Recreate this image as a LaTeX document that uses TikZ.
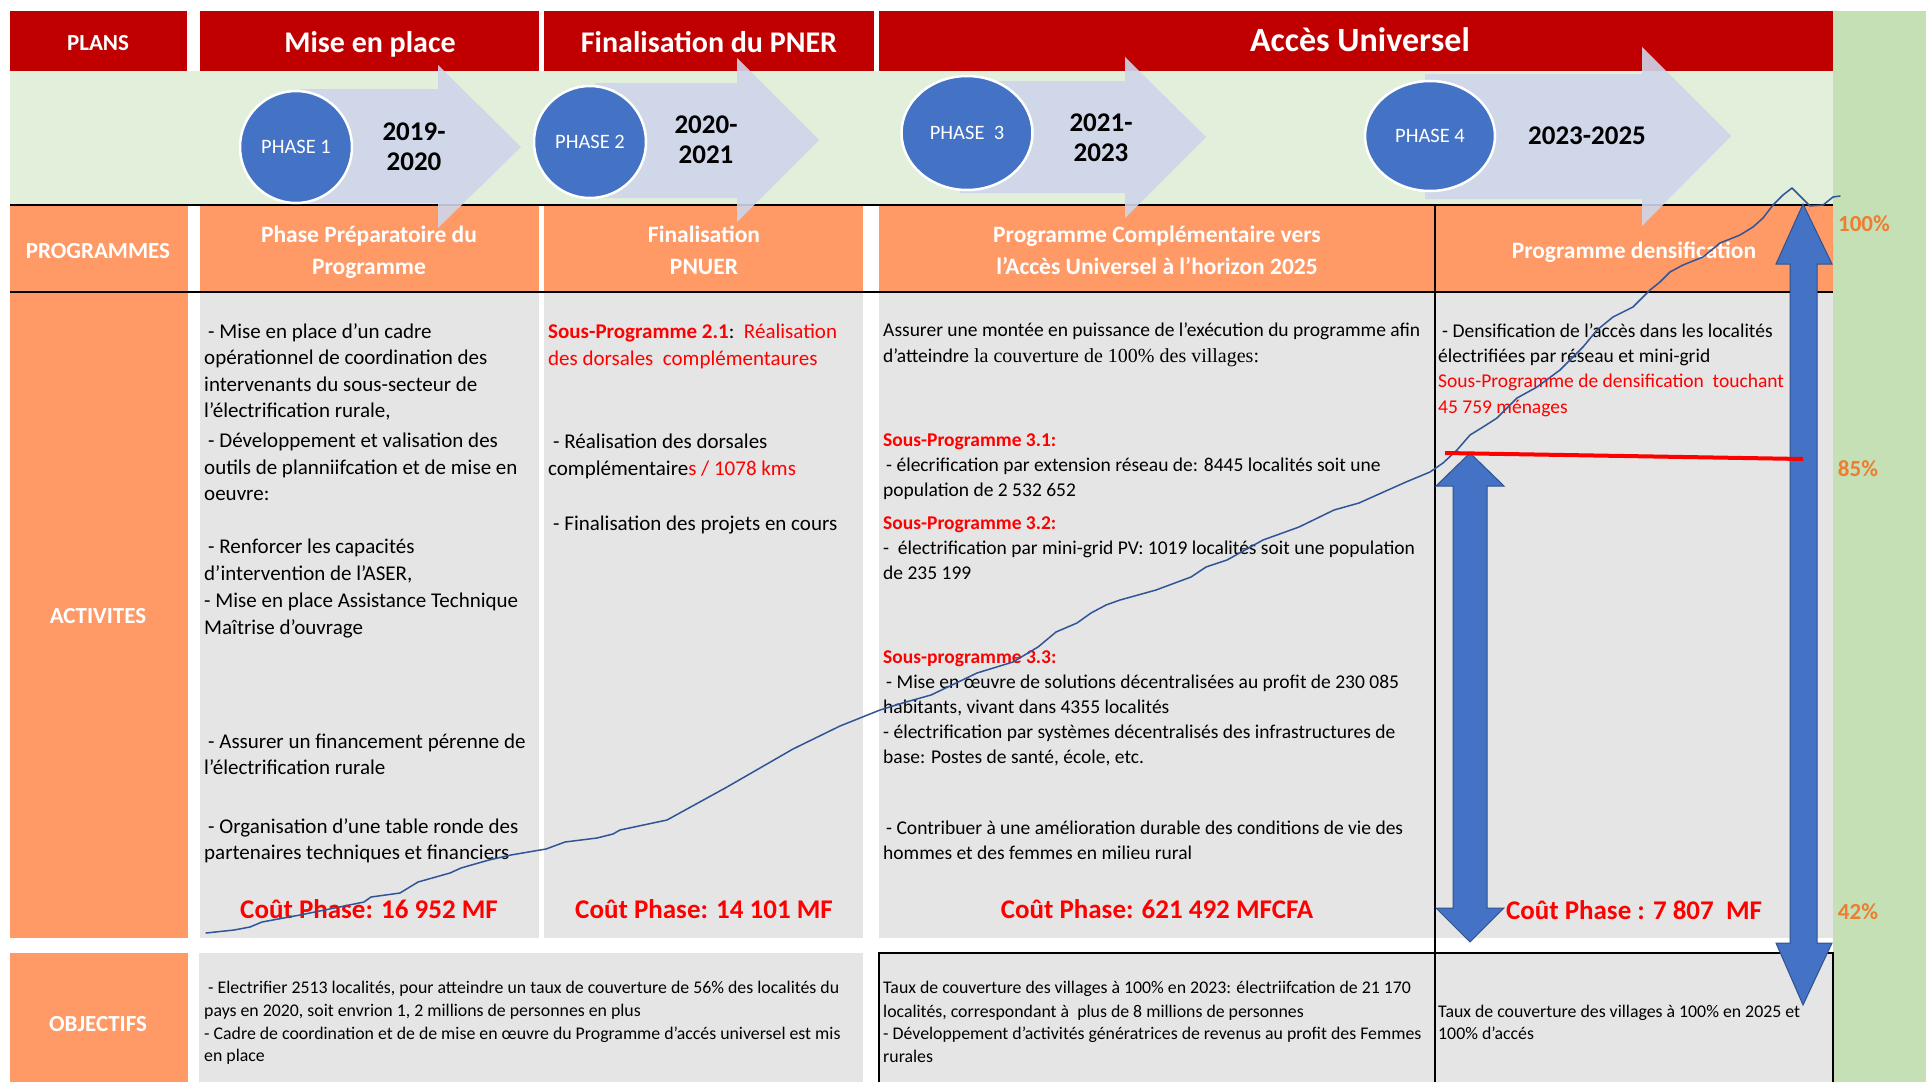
\documentclass[tikz,border=0pt]{standalone}
\usepackage{fontspec}
\setmainfont{Carlito}
\newfontfamily\serifTNR{Liberation Serif}
\usetikzlibrary{shapes.geometric}
\definecolor{hdrred}{HTML}{C00000}
\definecolor{bandgreen}{HTML}{E2EFDA}
\definecolor{sidegreen}{HTML}{C5E0B4}
\definecolor{orng}{HTML}{FF9966}
\definecolor{cellgray}{HTML}{E5E5E5}
\definecolor{pctorange}{HTML}{ED7D31}
\definecolor{phaseblue}{HTML}{4472C4}
\definecolor{arrowlav}{HTML}{CFD5EA}
\definecolor{curveblue}{HTML}{2F5597}
\definecolor{darkblue}{HTML}{2F528F}
\definecolor{txtred}{HTML}{FF0000}
\newcommand\fsz[1]{\fontsize{#1}{#1}\selectfont}
\begin{document}
\begin{tikzpicture}[x=1pt,y=-1pt,
  ctr/.style={inner sep=0pt,text height=0.68em,text depth=0.2em,yshift=-6.5pt},
  lbl/.style={ctr,text=white,font=\bfseries\fsz{23}},
  hdrtxt/.style={ctr,text=white,font=\bfseries\fsz{30}},
  yeartxt/.style={ctr,font=\bfseries\fsz{27}},
  phasec/.style={circle,fill=phaseblue,draw=white,line width=2.5pt,text=white,font=\fsz{20.5},inner sep=0pt},
  phasee/.style={ellipse,fill=phaseblue,draw=white,line width=2.5pt,text=white,font=\fsz{20.5},inner sep=0pt},
  progtxt/.style={ctr,text=white,font=\bfseries\fsz{23.5}},
  tl/.style={anchor=base west,inner sep=0pt,font=\fsz{21}},
  tm/.style={anchor=base west,inner sep=0pt,font=\fsz{19.5}},
  ts/.style={anchor=base west,inner sep=0pt,font=\fsz{17.8}},
  cost/.style={ctr,text=txtred,font=\bfseries\fsz{27}},
  pct/.style={ctr,text=pctorange,font=\bfseries\fsz{23}},
  flowarrow/.style={fill=arrowlav,fill opacity=0.9},
  bigarrow/.style={fill=phaseblue,draw=darkblue,line width=1pt},
  redt/.style={text=txtred},
]
\useasboundingbox (0,0) rectangle (1926,1082);
\fill[white] (0,0) rectangle (1926,1082);
% header row
\fill[hdrred] (10,11) rectangle (187,71);
\fill[hdrred] (200,11) rectangle (539,71);
\fill[hdrred] (544,11) rectangle (874,71);
\fill[hdrred] (879,11) rectangle (1833,71);
\fill[sidegreen] (1833,11) rectangle (1926,1082);
\fill[bandgreen] (10,71) rectangle (1833,205);
% programmes row
\fill[orng] (10,205) rectangle (188,292);
\fill[orng] (200,205) rectangle (539,292);
\fill[orng] (544,205) rectangle (863,292);
\fill[orng] (879,205) rectangle (1833,292);
% activities row
\fill[orng] (10,292) rectangle (188,938);
\fill[cellgray] (200,292) rectangle (539,938);
\fill[cellgray] (544,292) rectangle (863,938);
\fill[cellgray] (879,292) rectangle (1833,938);
% objectives row
\fill[orng] (10,953) rectangle (188,1082);
\fill[cellgray] (199,953) rectangle (863,1082);
\fill[cellgray] (879,953) rectangle (1833,1082);
\draw[line width=1.5pt] (879,1082) -- (879,953) -- (1833,953) -- (1833,1082);
\draw[line width=1.5pt] (1435,205) -- (1435,1082);
\draw[line width=1.5pt] (10,205) -- (1833,205);
\draw[line width=1.5pt] (10,292) -- (1833,292);
% flow arrows
\fill[flowarrow] (300,89) -- (438,89) -- (438,65) -- (521,147) -- (438,228) -- (438,203) -- (300,203) -- cycle;
\fill[flowarrow] (595,83) -- (737,83) -- (737,58) -- (819,140) -- (737,222) -- (737,198) -- (595,198) -- cycle;
\fill[flowarrow] (960,81) -- (1125,81) -- (1125,57) -- (1206,137) -- (1125,218) -- (1125,193) -- (960,193) -- cycle;
\fill[flowarrow] (1425,74) -- (1642,74) -- (1642,47) -- (1731,136) -- (1642,226) -- (1642,199) -- (1425,199) -- cycle;
% phase discs
\node[phasec,minimum size=112pt] (ph1) at (296,147) {PHASE 1};
\node[phasec,minimum size=112pt] (ph2) at (590,142) {PHASE 2};
\node[phasee,minimum width=131pt,minimum height=114pt] (ph3) at (967,133) {PHASE\ \ 3};
\node[phasee,minimum width=130pt,minimum height=110pt] (ph4) at (1430,136) {PHASE 4};
% years
\node[yeartxt] (y1a) at (414,132) {2019-};
\node[yeartxt] (y1b) at (414,162) {2020};
\node[yeartxt] (y2a) at (706,125) {2020-};
\node[yeartxt] (y2b) at (706,155) {2021};
\node[yeartxt] (y3a) at (1101,123) {2021-};
\node[yeartxt] (y3b) at (1101,153) {2023};
\node[yeartxt] (y4) at (1587,136) {2023-2025};
% header labels
\node[lbl] (plans) at (98,42) {PLANS};
\node[hdrtxt] (h1) at (370,44) {Mise en place};
\node[hdrtxt] (h2) at (709,44) {Finalisation du PNER};
\node[hdrtxt,font=\bfseries\fsz{34}] (h3) at (1360,43) {Accès Universel};
% programmes labels
\node[lbl] (progl) at (98,250) {PROGRAMMES};
\node[progtxt] (pr1a) at (369,234) {Phase Préparatoire du};
\node[progtxt] (pr1b) at (369,266) {Programme};
\node[progtxt] (pr2a) at (704,234) {Finalisation};
\node[progtxt] (pr2b) at (704,266) {PNUER};
\node[progtxt] (pr3a) at (1157,234) {Programme Complémentaire vers};
\node[progtxt] (pr3b) at (1157,266) {l'Accès Universel à l'horizon 2025};
\node[progtxt] (pr4) at (1634,250) {Programme densification};
\node[lbl] (actl) at (98,615) {ACTIVITES};
\node[lbl] (objl) at (98,1023) {OBJECTIFS};
% column 1 activities
\node[tl] (a1) at (208,338) {- Mise en place d’un cadre};
\node[tl] (a2) at (204,364) {opérationnel de coordination des};
\node[tl] (a3) at (204,391) {intervenants du sous-secteur de};
\node[tl] (a4) at (204,417) {l’électrification rurale,};
\node[tl] (a5) at (208,447) {- Développement et valisation des};
\node[tl] (a6) at (204,474) {outils de planniifcation et de mise en};
\node[tl] (a7) at (204,500) {oeuvre:};
\node[tl] (a8) at (208,553) {- Renforcer les capacités};
\node[tl] (a9) at (204,580) {d’intervention de l’ASER,};
\node[tl] (a10) at (204,607) {- Mise en place Assistance Technique};
\node[tl] (a11) at (204,634) {Maîtrise d'ouvrage};
\node[tl] (a12) at (208,748) {- Assurer un financement pérenne de};
\node[tl] (a13) at (204,774) {l’électrification rurale};
\node[tl] (a14) at (208,833) {- Organisation d'une table ronde des};
\node[tl] (a15) at (204,859) {partenaires techniques et financiers};
% column 2 activities
\node[tl,redt] (b1) at (548,338) {\textbf{Sous-Programme 2.1}{\color{black}:}~~Réalisation};
\node[tl,redt] (b2) at (548,365) {des dorsales~~complémentaures};
\node[tl] (b3) at (553,448) {- Réalisation des dorsales};
\node[tl] (b4) at (548,475) {complémentaire{\color{txtred}s / 1078 kms}};
\node[tl] (b5) at (553,530) {- Finalisation des projets en cours};
% column 3 activities
\node[tm] (c1) at (883,336) {Assurer une montée en puissance de l’exécution du programme afin};
\node[tm] (c2) at (883,362) {d’atteindre{\serifTNR\fsz{20} la couverture de 100\% des villages:}};
\node[tm,redt,font=\bfseries\fsz{19.5}] (c3) at (883,446) {Sous-Programme 3.1:};
\node[tm] (c4) at (886,471) {- élecrification par extension réseau de: 8445 localités soit une};
\node[tm] (c5) at (883,496) {population de 2 532 652};
\node[tm,redt,font=\bfseries\fsz{19.5}] (c6) at (883,529) {Sous-Programme 3.2:};
\node[tm] (c7) at (883,554) {-~~électrification par mini-grid PV: 1019 localités soit une population};
\node[tm] (c8) at (883,579) {de 235 199};
\node[tm,redt,font=\bfseries\fsz{19.5}] (c9) at (883,663) {Sous-programme 3.3:};
\node[tm] (c10) at (886,688) {- Mise en œuvre de solutions décentralisées au profit de 230 085};
\node[tm] (c11) at (883,713) {habitants, vivant dans 4355 localités};
\node[tm] (c12) at (883,738) {- électrification par systèmes décentralisés des infrastructures de};
\node[tm] (c13) at (883,763) {base: Postes de santé, école, etc.};
\node[tm] (c14) at (886,834) {- Contribuer à une amélioration durable des conditions de vie des};
\node[tm] (c15) at (883,859) {hommes et des femmes en milieu rural};
% column 4 activities
\node[tm] (d1) at (1442,337) {- Densification de l’accès dans les localités};
\node[tm] (d2) at (1438,362) {électrifiées par réseau et mini-grid};
\node[tm,redt] (d3) at (1438,387) {Sous-Programme de densification~~touchant};
\node[tm,redt] (d4) at (1438,413) {45 759 ménages};
% costs
\node[cost] (k1) at (369,910) {Coût Phase: 16 952 MF};
\node[cost] (k2) at (704,910) {Coût Phase: 14 101 MF};
\node[cost] (k3) at (1157,910) {Coût Phase: 621 492 MFCFA};
\node[cost] (k4) at (1634,911) {Coût Phase : 7 807~~MF};
% objectives
\node[ts] (o1) at (208,993) {- Electrifier 2513 localités, pour atteindre un taux de couverture de 56\% des localités du};
\node[ts] (o2) at (204,1016) {pays en 2020, soit envrion 1, 2 millions de personnes en plus};
\node[ts] (o3) at (204,1039) {- Cadre de coordination et de de mise en œuvre du Programme d'accés universel est mis};
\node[ts] (o4) at (204,1061) {en place};
\node[ts] (o5) at (883,993) {Taux de couverture des villages à 100\% en 2023: électriifcation de 21 170};
\node[ts] (o6) at (883,1017) {localités, correspondant à~~plus de 8 millions de personnes};
\node[ts] (o7) at (883,1039) {- Développement d'activités génératrices de revenus au profit des Femmes};
\node[ts] (o8) at (883,1062) {rurales};
\node[ts] (o9) at (1438,1017) {Taux de couverture des villages à 100\% en 2025 et};
\node[ts] (o10) at (1438,1039) {100\% d'accés};
% percentages
\node[pct] (pc100) at (1864,223) {100\%};
\node[pct] (pc85) at (1858,468) {85\%};
\node[pct] (pc42) at (1858,911) {42\%};
% blue double arrows
\filldraw[bigarrow] (1803,204) -- (1832,264) -- (1817,264) -- (1817,943) -- (1832,943) -- (1803,1005) -- (1776,943) -- (1790,943) -- (1790,264) -- (1776,264) -- cycle;
\filldraw[bigarrow] (1470,453) -- (1504,486) -- (1487,486) -- (1487,908) -- (1504,908) -- (1470,942) -- (1436,908) -- (1453,908) -- (1453,486) -- (1436,486) -- cycle;
% progress curve
\draw[curveblue,line width=1.5pt,line join=round,line cap=round] plot coordinates {
(206,933) (234,930) (250,927) (262,922) (300,915) (364,902) (371,897) (400,893) (418,882) (450,873) (461,868) (489,860) (511,855) (546,849) (565,842) (597,838) (613,834) (620,830) (667,820) (727,787) (793,749) (840,726) (880,710) (906,702) (931,695) (952,685) (977,673) (1013,662) (1038,647) (1056,632) (1077,623) (1091,613) (1106,605) (1120,600) (1156,590) (1191,577) (1206,567) (1227,560) (1263,540) (1299,527) (1334,510) (1359,503) (1388,490) (1406,482) (1430,472) (1443,463) (1457,450) (1470,435) (1483,427) (1497,418) (1517,398) (1537,387) (1560,370) (1583,347) (1597,330) (1613,317) (1633,307) (1650,290) (1660,282) (1670,272) (1683,265) (1703,257) (1720,243) (1740,235) (1753,227) (1763,218) (1773,205) (1783,195) (1792,188) (1810,206) (1823,205) (1833,197) (1840,196)};
% 85% level line
\draw[txtred,line width=4pt] (1445,453) -- (1803,459);
\end{tikzpicture}
\end{document}
